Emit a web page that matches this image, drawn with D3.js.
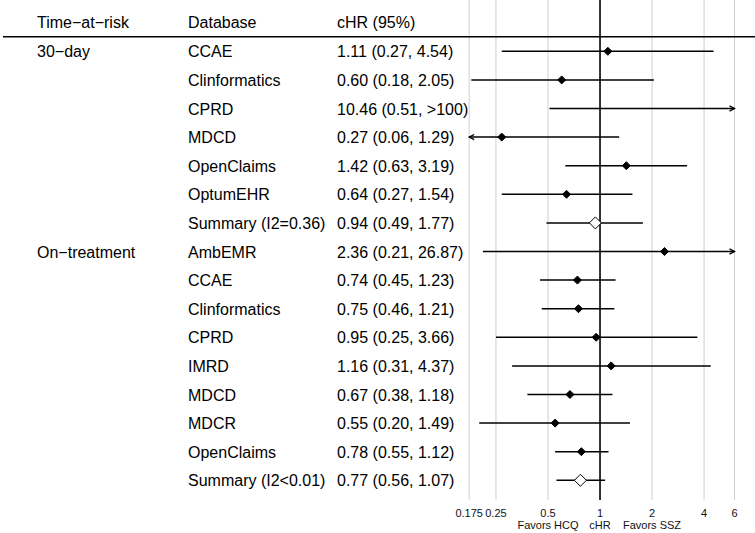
<!DOCTYPE html>
<html>
<head>
<meta charset="utf-8">
<script src="https://cdn.jsdelivr.net/npm/d3@7"></script>
<style>
  html, body { margin: 0; padding: 0; background: #fff; }
  svg { display: block; font-family: "Liberation Sans", Arial, Helvetica, sans-serif; }
</style>
</head>
<body>
<svg id="chart" width="755" height="533"></svg>
<script>
// ---- data ----
const timeAtRisk = ["30\u2212day", "", "", "", "", "", "", "On\u2212treatment", "", "", "", "", "", "", "", ""];
const databases = ["CCAE", "Clinformatics", "CPRD", "MDCD", "OpenClaims", "OptumEHR", "Summary (I2=0.36)",
                   "AmbEMR", "CCAE", "Clinformatics", "CPRD", "IMRD", "MDCD", "MDCR", "OpenClaims", "Summary (I2<0.01)"];
const hr  = [1.11, 0.60, 10.46, 0.27, 1.42, 0.64, 0.94, 2.36, 0.74, 0.75, 0.95, 1.16, 0.67, 0.55, 0.78, 0.77];
const lo  = [0.27, 0.18, 0.51, 0.06, 0.63, 0.27, 0.49, 0.21, 0.45, 0.46, 0.25, 0.31, 0.38, 0.20, 0.55, 0.56];
const hi  = [4.54, 2.05, Infinity, 1.29, 3.19, 1.54, 1.77, 26.87, 1.23, 1.21, 3.66, 4.37, 1.18, 1.49, 1.12, 1.07];
const isSummary = [false, false, false, false, false, false, true, false, false, false, false, false, false, false, false, true];
const headers = ["Time\u2212at\u2212risk", "Database", "cHR (95%)"];
const tickValues = [0.175, 0.25, 0.5, 1, 2, 4, 6];
const tickLabels = ["0.175", "0.25", "0.5", "1", "2", "4", "6"];
const tickSubLabels = ["", "", "Favors HCQ", "cHR", "Favors SSZ", "", ""];

// ---- layout ----
const svg = d3.select("#chart");
const W = 755;
const x = d3.scaleLog().domain([0.175, 6]).range([469.2, 734.5]);
const y = d3.scaleLinear().domain([0, databases.length - 1]).range([51.3, 480.3]);
const colX = [37, 188, 337];
const gridTop = 0, gridBottom = 500;
const fmt = d3.format(".2f");
const ciText = i => fmt(hr[i]) + " (" + fmt(lo[i]) + ", " + (isFinite(hi[i]) && hi[i] <= 100 ? fmt(hi[i]) : ">100") + ")";

// gridlines
svg.append("g").selectAll("line").data(tickValues).join("line")
  .attr("x1", d => x(d)).attr("x2", d => x(d))
  .attr("y1", gridTop).attr("y2", gridBottom)
  .attr("stroke", d => d === 1 ? "#000" : "#cfcfcf")
  .attr("stroke-width", d => d === 1 ? 1.6 : 1);

// header line
svg.append("line").attr("x1", 3).attr("x2", W).attr("y1", 36.7).attr("y2", 36.7)
  .attr("stroke", "#000").attr("stroke-width", 1.6);

// headers
svg.append("g").selectAll("text").data(headers).join("text")
  .attr("x", (d, i) => colX[i]).attr("y", 27.7)
  .attr("font-size", 16).attr("fill", "#000").text(d => d);

// table text
const rows = d3.range(databases.length);
const tg = svg.append("g").attr("font-size", 16).attr("fill", "#000");
tg.selectAll("text.tar").data(rows).join("text").attr("class", "tar")
  .attr("x", colX[0]).attr("y", i => y(i) + 6).text(i => timeAtRisk[i]);
tg.selectAll("text.db").data(rows).join("text").attr("class", "db")
  .attr("x", colX[1]).attr("y", i => y(i) + 6).text(i => databases[i]);
tg.selectAll("text.ci").data(rows).join("text").attr("class", "ci")
  .attr("x", colX[2]).attr("y", i => y(i) + 6).text(i => ciText(i));

// CI lines
const [dMin, dMax] = x.domain();
const pg = svg.append("g");
rows.forEach(i => {
  const l = Math.max(lo[i], dMin), h = Math.min(hi[i], dMax);
  const yy = y(i);
  pg.append("line").attr("x1", x(l)).attr("x2", x(h)).attr("y1", yy).attr("y2", yy)
    .attr("stroke", "#000").attr("stroke-width", 1.5);
  const arrow = (xt, dir) => {
    pg.append("path")
      .attr("d", `M${xt - dir * 5},${yy - 2.6}L${xt},${yy}L${xt - dir * 5},${yy + 2.6}`)
      .attr("fill", "none").attr("stroke", "#000").attr("stroke-width", 1.3);
  };
  if (lo[i] < dMin) arrow(x(dMin), -1);
  if (hi[i] > dMax) arrow(x(dMax), 1);
  if (hr[i] >= dMin && hr[i] <= dMax) {
    const cx = x(hr[i]);
    const r = isSummary[i] ? 6 : 4;
    pg.append("path")
      .attr("d", `M${cx},${yy - r}L${cx + r},${yy}L${cx},${yy + r}L${cx - r},${yy}Z`)
      .attr("fill", isSummary[i] ? "#fff" : "#000")
      .attr("stroke", "#000").attr("stroke-width", 1);
  }
});

// axis labels
const ag = svg.append("g").attr("font-size", 11).attr("fill", "#111").attr("text-anchor", "middle");
ag.selectAll("text.t").data(tickValues).join("text").attr("class", "t")
  .attr("x", d => x(d)).attr("y", 517).text((d, i) => tickLabels[i]);
ag.selectAll("text.s").data(tickValues).join("text").attr("class", "s")
  .attr("x", d => x(d)).attr("y", 528.5).text((d, i) => tickSubLabels[i]);
</script>
</body>
</html>
